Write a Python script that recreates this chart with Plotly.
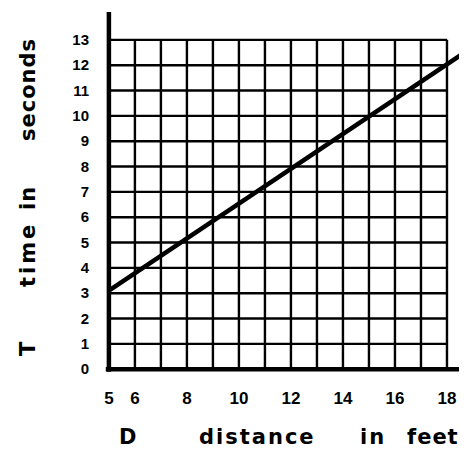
import plotly.graph_objects as go

# Data
distance_line = [5.0, 18.75]      # D (feet) at the two ends of the drawn line
time_line = [3.1, 12.55]          # T (seconds) at those ends
x_ticks = [5, 6, 8, 10, 12, 14, 16, 18]
y_ticks = list(range(0, 14))
grid_x = list(range(5, 19))       # vertical grid lines
grid_y = list(range(0, 14))       # horizontal grid lines

FONT = "Liberation Sans"
TFONT = "DejaVu Sans"

fig = go.Figure()

fig.add_trace(go.Scatter(x=distance_line, y=time_line, mode="lines",
                         line=dict(color="black", width=4.5),
                         showlegend=False, hoverinfo="skip"))

shapes = []
for gx in grid_x:
    shapes.append(dict(type="line", xref="x", yref="y", x0=gx, x1=gx,
                       y0=grid_y[0], y1=grid_y[-1],
                       line=dict(color="black", width=2.4), layer="below"))
for gy in grid_y:
    shapes.append(dict(type="line", xref="x", yref="y", x0=grid_x[0], x1=grid_x[-1],
                       y0=gy, y1=gy,
                       line=dict(color="black", width=2.4), layer="below"))
# heavy axes
shapes.append(dict(type="line", xref="x", yref="y", x0=4.88, x1=18.8, y0=0, y1=0,
                   line=dict(color="black", width=4.5)))
shapes.append(dict(type="line", xref="x", yref="y", x0=5, x1=5, y0=-0.1, y1=14.2,
                   line=dict(color="black", width=4.5)))

OFF = 8  # page body margin
W, H = 467 - OFF, 450 - OFF
L, R, T, B = 105 - OFF, 0, 12 - OFF, 450 - 373
pw, ph = W - L - R, H - T - B


def px(xp):
    return (xp - OFF - L) / pw


def py(yp):
    return (H - B - (yp - OFF)) / ph


def ann(text, x, y, size, angle=0, spacing=0):
    t = f'<span style="letter-spacing:{spacing}px">{text}</span>' if spacing else text
    return dict(text=f"<b>{t}</b>", x=x, y=y, xref="paper", yref="paper",
                showarrow=False, textangle=angle,
                font=dict(family=TFONT, size=size, color="black"),
                xanchor="center", yanchor="middle")


annotations = [
    ann("D", px(127), py(437), 21),
    ann("distance", px(257), py(437), 21, spacing=2),
    ann("in", px(373), py(437), 21, spacing=2),
    ann("feet", px(433), py(437), 21, spacing=1),
    ann("T", px(28), py(349), 21, angle=-90),
    ann("time", px(28), py(255), 21, angle=-90, spacing=3),
    ann("in", px(28), py(198), 21, angle=-90, spacing=1),
    ann("seconds", px(28), py(90), 21, angle=-90, spacing=1),
]

fig.update_layout(
    width=W, height=H,
    margin=dict(l=L, r=R, t=T, b=B, pad=0),
    paper_bgcolor="white", plot_bgcolor="white",
    shapes=shapes, annotations=annotations,
    xaxis=dict(range=[4.85, 18.77], tickvals=x_ticks, ticktext=[str(v) for v in x_ticks],
               showgrid=False, zeroline=False, showline=False,
               ticks="outside", ticklen=10, tickcolor="rgba(0,0,0,0)",
               tickfont=dict(family=FONT, size=17, color="black", weight="bold")),
    yaxis=dict(range=[-0.15, 14.1], tickvals=y_ticks, ticktext=[str(v) for v in y_ticks],
               showgrid=False, zeroline=False, showline=False,
               ticks="outside", ticklen=12, tickcolor="rgba(0,0,0,0)",
               tickfont=dict(family=FONT, size=15, color="black", weight="bold")),
)

fig.write_html("out.html")
